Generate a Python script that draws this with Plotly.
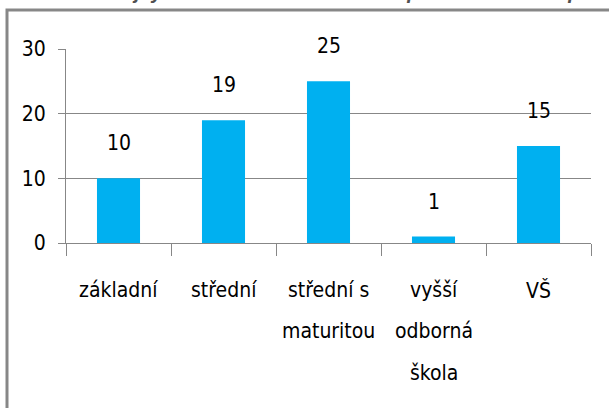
import plotly.graph_objects as go

categories = ["základní", "střední", "střední s maturitou", "vyšší odborná škola", "VŠ"]
label_lines = [["základní"], ["střední"], ["střední s", "maturitou"], ["vyšší", "odborná", "škola"], ["VŠ"]]
values = [10, 19, 25, 1, 15]
y_ticks = [0, 10, 20, 30]
title_text = "Graf č. 5: Nejvyšší dosažené vzdělání respondentů dle stupně"

W, H = 609, 408
L, R, T, B = 66, 18, 49, 165
pw, ph = W - L - R, H - T - B

def px_x(p):
    return (p - L) / pw

def px_y(p):
    return (H - B - p) / ph

FONT = "DejaVu Sans Condensed, Liberation Sans Narrow, sans-serif"
FS = 21
GRAY = "#878787"

fig = go.Figure(go.Bar(x=categories, y=values, marker=dict(color="#00B0F0", line=dict(width=0)),
                       hoverinfo="skip"))

annotations = []
for c, v in zip(categories, values):
    annotations.append(dict(x=c, y=v, xref="x", yref="y", text=str(v), showarrow=False,
                            yanchor="middle", yshift=35, font=dict(family=FONT, size=FS, color="#000")))

line_y = [290, 331, 373]
for c, lines in zip(categories, label_lines):
    for i, t in enumerate(lines):
        annotations.append(dict(x=c, y=px_y(line_y[i]), xref="x", yref="paper", text=t,
                                showarrow=False, yanchor="middle",
                                font=dict(family=FONT, size=FS, color="#000")))

annotations.append(dict(x=px_x(15), y=px_y(-8), xref="paper", yref="paper",
                        text="<b><i>" + title_text + "</i></b>",
                        showarrow=False, yanchor="middle", xanchor="left",
                        font=dict(family="Liberation Sans, Arial, sans-serif", size=20, color="#505050")))

fig.update_layout(
    width=W, height=H,
    margin=dict(l=L, r=R, t=T, b=B, pad=0),
    paper_bgcolor="white", plot_bgcolor="white",
    showlegend=False,
    bargap=0.59,
    annotations=annotations,
    shapes=[dict(type="rect", xref="paper", yref="paper",
                 x0=px_x(7), x1=px_x(640), y0=px_y(440), y1=px_y(10),
                 line=dict(color=GRAY, width=3), fillcolor="rgba(0,0,0,0)", layer="below")],
    xaxis=dict(showticklabels=False, ticks="outside", tickson="boundaries", ticklen=12,
               tickcolor=GRAY, tickwidth=1, showline=True, linecolor=GRAY, linewidth=1,
               showgrid=False, zeroline=False, fixedrange=True, automargin=False),
    yaxis=dict(range=[0, 30], tickvals=y_ticks, ticks="outside", ticklen=7, tickcolor=GRAY,
               showline=True, linecolor=GRAY, linewidth=1, showgrid=True, gridcolor=GRAY,
               gridwidth=1, zeroline=False, ticklabelstandoff=8, automargin=False,
               tickfont=dict(family=FONT, size=FS, color="#000"), fixedrange=True),
)

fig.write_html("out.html", config={"displayModeBar": False},
               post_script="document.body.style.margin='0px';")
